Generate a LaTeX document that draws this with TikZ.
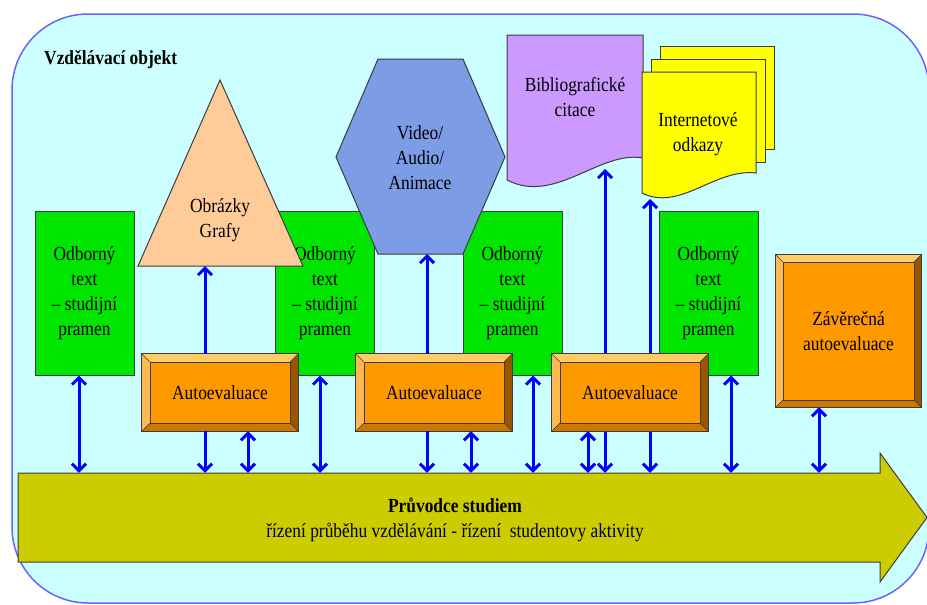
\documentclass[tikz,border=0pt]{standalone}
\usepackage{fontspec}
\setmainfont{Liberation Serif}
\usetikzlibrary{arrows.meta,calc}
\newcommand\sx[1]{\scalebox{0.87}[1]{#1}}
\definecolor{bgc}{RGB}{204,255,255}
\definecolor{bgb}{RGB}{102,102,255}
\definecolor{grn}{RGB}{0,230,0}
\definecolor{peach}{RGB}{255,204,153}
\definecolor{hexc}{RGB}{124,157,229}
\definecolor{purp}{RGB}{204,153,255}
\definecolor{yel}{RGB}{255,255,0}
\definecolor{org}{RGB}{255,153,0}
\definecolor{orgL}{RGB}{255,204,102}
\definecolor{orgM}{RGB}{255,185,80}
\definecolor{orgD}{RGB}{204,119,0}
\definecolor{orgR}{RGB}{153,85,0}
\definecolor{olivec}{RGB}{204,204,0}
\definecolor{edgec}{RGB}{60,60,60}
\tikzset{
  txt/.style={font=\rmfamily\fontsize{20}{25}\selectfont, align=center, text=black},
  shapeline/.style={draw=edgec, line width=1pt},
  greenbox/.style={txt, shapeline, fill=grn, minimum width=99pt, minimum height=164pt, inner sep=0pt},
  autobox/.style={txt, fill=org, minimum width=156pt, minimum height=77pt, inner sep=0pt},
  conn/.style={draw=blue, line width=3pt},
  >={Straight Barb[length=7pt,width=14pt]}
}
\newcommand\bevelize[2]{%
  \fill[orgL] (#1.north west) -- (#1.north east) -- ($(#1.north east)+(-#2,#2)$) -- ($(#1.north west)+(#2,#2)$) -- cycle;
  \fill[orgM] (#1.north west) -- ($(#1.north west)+(#2,#2)$) -- ($(#1.south west)+(#2,-#2)$) -- (#1.south west) -- cycle;
  \fill[orgD] (#1.south west) -- (#1.south east) -- ($(#1.south east)+(-#2,-#2)$) -- ($(#1.south west)+(#2,-#2)$) -- cycle;
  \fill[orgR] (#1.north east) -- (#1.south east) -- ($(#1.south east)+(-#2,-#2)$) -- ($(#1.north east)+(-#2,#2)$) -- cycle;
  \draw[draw=edgec, line width=0.6pt] ($(#1.north west)+(#2,#2)$) rectangle ($(#1.south east)+(-#2,-#2)$);
  \draw[draw=edgec, line width=0.5pt] (#1.north west) -- ($(#1.north west)+(#2,#2)$)
     (#1.north east) -- ($(#1.north east)+(-#2,#2)$)
     (#1.south west) -- ($(#1.south west)+(#2,-#2)$)
     (#1.south east) -- ($(#1.south east)+(-#2,-#2)$);
  \draw[shapeline] (#1.north west) rectangle (#1.south east);
}
\begin{document}
\begin{tikzpicture}[x=1pt,y=-1pt]
\useasboundingbox (0,0) rectangle (927,605);
% background
\filldraw[fill=bgc, draw=bgb, line width=1.5pt, rounded corners=76pt] (12,14) rectangle (929,603);
\node[txt, font=\rmfamily\fontsize{20}{25}\selectfont\bfseries, anchor=west, inner sep=0pt] (title) at (44,60) {\sx{Vzdělávací objekt}};

% green boxes
\node[greenbox] (g1) at (84.5,293) {\sx{Odborný}\\\sx{text}\\\sx{– studijní}\\\sx{pramen}};
\node[greenbox] (g2) at (325,293) {\sx{Odborný}\\\sx{text}\\\sx{– studijní}\\\sx{pramen}};
\node[greenbox] (g3) at (512.5,293) {\sx{Odborný}\\\sx{text}\\\sx{– studijní}\\\sx{pramen}};
\node[greenbox] (g4) at (708.5,293) {\sx{Odborný}\\\sx{text}\\\sx{– studijní}\\\sx{pramen}};

% triangle
\coordinate (tA) at (220,80);
\coordinate (tL) at (138,266);
\coordinate (tR) at (303,266);
\filldraw[fill=peach, shapeline] (tA) -- (tR) -- (tL) -- cycle;
\node[txt] (tri) at (220,220.5) {\sx{Obrázky}\\\sx{Grafy}};

% hexagon
\coordinate (h1) at (378,59);
\coordinate (h2) at (463,59);
\coordinate (h3) at (505,157);
\coordinate (h4) at (463,254);
\coordinate (h5) at (378,254);
\coordinate (h6) at (336,157);
\filldraw[fill=hexc, shapeline] (h1) -- (h2) -- (h3) -- (h4) -- (h5) -- (h6) -- cycle;
\node[txt] (hex) at (420,158) {\sx{Video/}\\\sx{Audio/}\\\sx{Animace}};

% bibliography document
\filldraw[fill=purp, shapeline] (507,35) -- (643,35) -- (643,158)
   .. controls (600,150) and (555,205) .. (507,180) -- cycle;
\node[txt] (bib) at (575,97.5) {\sx{Bibliografické}\\\sx{citace}};
\coordinate (bibB) at (605,169);

% internet documents
\filldraw[fill=yel, shapeline] (660,46) rectangle (774,149);
\filldraw[fill=yel, shapeline] (651,59) rectangle (765,162);
\filldraw[fill=yel, shapeline] (642,72) -- (756,72) -- (756,173)
   .. controls (715,168) and (680,212) .. (642,193) -- cycle;
\node[txt] (inet) at (698,134.5) {\sx{Internetové}\\\sx{odkazy}};
\coordinate (inetB) at (650,199);

% big arrow
\filldraw[fill=olivec, shapeline] (18,473) -- (880,473) -- (880,453) -- (927,517.5) -- (880,582) -- (880,562) -- (18,562) -- cycle;
\node[minimum width=862pt, minimum height=89pt, inner sep=0pt] (bar) at (449,517.5) {};
\node[txt] (bartxt) at (455,519.5) {\sx{\textbf{Průvodce studiem}}\\\sx{řízení průběhu vzdělávání - řízení \ studentovy aktivity}};

% long connectors, behind the autoevaluation boxes
\draw[conn, <->] (bar.north -| 605,0) -- (bibB);
\draw[conn, <->] (bar.north -| 650,0) -- (inetB);

% autoevaluation boxes
\node[autobox] (a1) at (220,392.5) {};
\node[autobox] (a2) at (434,392.5) {};
\node[autobox] (a3) at (630,392.5) {};
\node[autobox, minimum width=145pt, minimum height=152pt] (fin) at (848.5,331) {};
\bevelize{a1}{8}
\bevelize{a2}{8}
\bevelize{a3}{8}
\bevelize{fin}{7}
\node[txt] (a1t) at (a1) {\sx{Autoevaluace}};
\node[txt] (a2t) at (a2) {\sx{Autoevaluace}};
\node[txt] (a3t) at (a3) {\sx{Autoevaluace}};
\node[txt] (fint) at (fin) {\sx{Závěrečná}\\\sx{autoevaluace}};

\draw[conn, <->] (g1.south -| 79,0) -- (bar.north -| 79,0);
\draw[conn, ->] (a1.north -| 205,0) -- (tL -| 205,0);
\draw[conn, ->] (a1.south -| 205,0) -- (bar.north -| 205,0);
\draw[conn, <->] (a1.south -| 248,0) -- (bar.north -| 248,0);
\draw[conn, <->] (g2.south -| 320,0) -- (bar.north -| 320,0);
\draw[conn, ->] (a2.north -| 427,0) -- (h5 -| 427,0);
\draw[conn, ->] (a2.south -| 427,0) -- (bar.north -| 427,0);
\draw[conn, <->] (a2.south -| 471,0) -- (bar.north -| 471,0);
\draw[conn, <->] (g3.south -| 533,0) -- (bar.north -| 533,0);
\draw[conn, <->] (a3.south -| 588,0) -- (bar.north -| 588,0);
\draw[conn, <->] (g4.south -| 731,0) -- (bar.north -| 731,0);
\draw[conn, <->] (fin.south -| 819,0) -- (bar.north -| 819,0);
\end{tikzpicture}
\end{document}
